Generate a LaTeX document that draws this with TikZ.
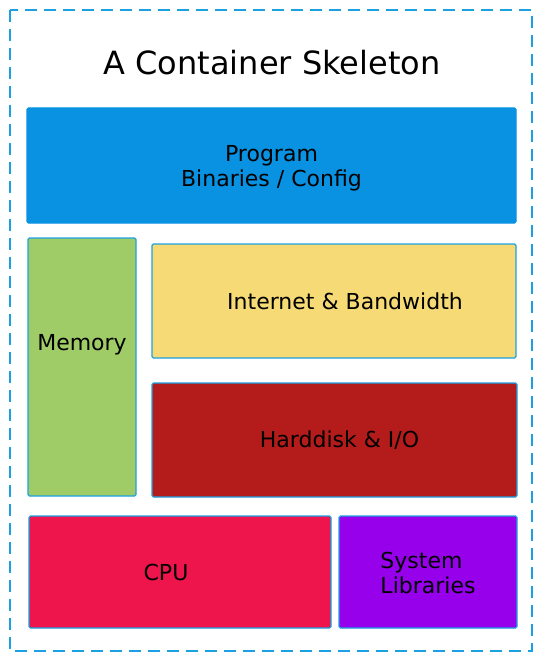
\documentclass[tikz,border=0pt]{standalone}
\usepackage{fontspec}
\setmainfont{DejaVu Sans}
\usepackage{xcolor}
\usetikzlibrary{positioning}

\definecolor{progblue}{RGB}{9,146,226}
\definecolor{memgreen}{RGB}{160,204,104}
\definecolor{netyellow}{RGB}{245,218,117}
\definecolor{diskred}{RGB}{180,28,28}
\definecolor{cpured}{RGB}{237,21,75}
\definecolor{libpurple}{RGB}{150,0,235}
\definecolor{edgeblue}{RGB}{27,161,226}

\begin{document}
\begin{tikzpicture}[x=1pt, y=-1pt,
        part/.style={draw=edgeblue, line width=1.2pt, rounded corners=1.5pt, inner sep=0pt},
        partlabel/.style={font=\fontsize{22}{25}\selectfont, align=center}]
        \useasboundingbox (0, 0) rectangle (544, 663);
        \draw[edgeblue, line width=2pt, dash pattern=on 12pt off 7pt] (10, 10) rectangle (532, 651);
        \node[font=\fontsize{32}{36}\selectfont] (title) at (272, 63) {A Container Skeleton};

        \node[part, fill=progblue, draw=progblue, minimum width=489pt, minimum height=115pt] (prog) at (271.5, 165.5) {};
        \node[part, fill=memgreen, minimum width=108pt, minimum height=258pt] (mem) at (82, 367) {};
        \node[part, fill=netyellow, minimum width=364pt, minimum height=114pt] (net) at (334, 301) {};
        \node[part, fill=diskred, minimum width=365pt, minimum height=114pt] (disk) at (334.5, 440) {};
        \node[part, fill=cpured, minimum width=302pt, minimum height=112pt] (cpu) at (180, 572) {};
        \node[part, fill=libpurple, minimum width=178pt, minimum height=112pt] (lib) at (428, 572) {};

        \node[partlabel] (progtext) at ([yshift=-2.5pt]prog.center) {Program\\Binaries / Config};
        \node[partlabel] (memtext) at ([yshift=22pt]mem.center) {Memory};
        \node[partlabel] (nettext) at ([xshift=11pt]net.center) {Internet \& Bandwidth};
        \node[partlabel] (disktext) at ([xshift=5pt]disk.center) {Harddisk \& I/O};
        \node[partlabel] (cputext) at ([xshift=-14pt]cpu.center) {CPU};
        \node[partlabel, align=left] (libtext) at ([yshift=-1pt]lib.center) {System\\Libraries};
    \end{tikzpicture}
\end{document}
